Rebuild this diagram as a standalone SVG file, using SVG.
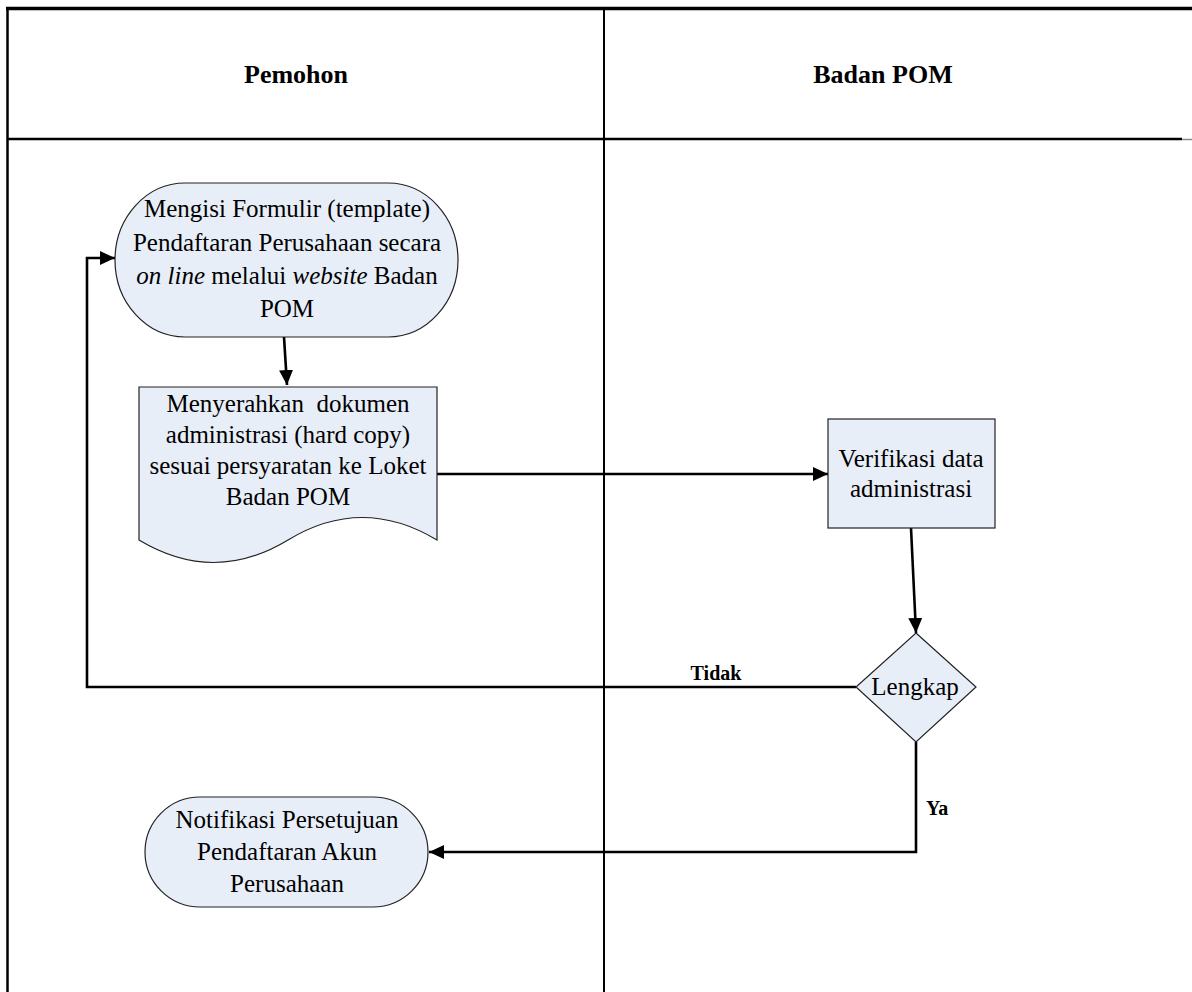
<svg xmlns="http://www.w3.org/2000/svg" width="1192" height="992" viewBox="0 0 1192 992">
<style>
.t{font-family:"Liberation Serif","Times New Roman",serif;font-size:25px;fill:#000;text-anchor:middle}
.b{font-family:"Liberation Serif","Times New Roman",serif;font-weight:bold;fill:#000}
.node{fill:#E8EEF8;stroke:#222;stroke-width:1.2}
.c{fill:none;stroke:#000;stroke-width:2.6}
</style>
<defs>
<marker id="ah" markerUnits="userSpaceOnUse" markerWidth="16" markerHeight="14" refX="15" refY="7" orient="auto">
<path d="M0,0 L15,7 L0,14 z" fill="#000"/>
</marker>
</defs>
<rect width="1192" height="992" fill="#fff"/>
<g id="lanes">
<line x1="6" y1="8.5" x2="1192" y2="8.5" stroke="#000" stroke-width="3.5"/>
<line x1="7.5" y1="7" x2="7.5" y2="992" stroke="#000" stroke-width="2.5"/>
<line x1="604" y1="8" x2="604" y2="992" stroke="#000" stroke-width="2"/>
<line x1="7" y1="139" x2="1182" y2="139" stroke="#000" stroke-width="2.5"/>
<line x1="1182" y1="139.5" x2="1192" y2="139.5" stroke="#888" stroke-width="1.5"/>
<text class="b" x="296" y="83" font-size="26" text-anchor="middle">Pemohon</text>
<text class="b" x="883" y="83" font-size="26" text-anchor="middle">Badan POM</text>
</g>
<g id="connectors">
<line class="c" x1="284" y1="337" x2="287" y2="385" marker-end="url(#ah)"/>
<line class="c" x1="437" y1="474" x2="828" y2="474" marker-end="url(#ah)"/>
<line class="c" x1="911" y1="528" x2="916" y2="633" marker-end="url(#ah)"/>
<path class="c" d="M856,687 H87 V258 H115" marker-end="url(#ah)"/>
<path class="c" d="M916,742 V852 H429" marker-end="url(#ah)"/>
<text class="b" x="716" y="680" font-size="20" text-anchor="middle">Tidak</text>
<text class="b" x="926" y="815" font-size="20">Ya</text>
</g>
<g id="n1">
<rect class="node" x="115" y="183" width="343" height="154" rx="70" ry="77"/>
<text class="t" x="287" y="217">Mengisi Formulir (template)</text>
<text class="t" x="287" y="251">Pendaftaran Perusahaan secara</text>
<text class="t" x="287" y="284"><tspan font-style="italic">on line</tspan> melalui <tspan font-style="italic">website</tspan> Badan</text>
<text class="t" x="287" y="317">POM</text>
</g>
<g id="n2">
<path class="node" d="M139,387 H437 V540 Q362,495 288,540 T139,540 Z"/>
<text class="t" x="288" y="412" xml:space="preserve">Menyerahkan  dokumen</text>
<text class="t" x="288" y="443">administrasi (hard copy)</text>
<text class="t" x="288" y="474">sesuai persyaratan ke Loket</text>
<text class="t" x="288" y="505">Badan POM</text>
</g>
<g id="n3">
<rect class="node" x="828" y="419" width="167" height="109"/>
<text class="t" x="911" y="467">Verifikasi data</text>
<text class="t" x="911" y="497">administrasi</text>
</g>
<g id="n4">
<path class="node" d="M916,633 L976,687 L916,742 L856,687 Z"/>
<text class="t" x="915" y="695">Lengkap</text>
</g>
<g id="n5">
<rect class="node" x="145" y="797" width="283" height="110" rx="55" ry="55"/>
<text class="t" x="287" y="828">Notifikasi Persetujuan</text>
<text class="t" x="287" y="860">Pendaftaran Akun</text>
<text class="t" x="287" y="892">Perusahaan</text>
</g>
</svg>
